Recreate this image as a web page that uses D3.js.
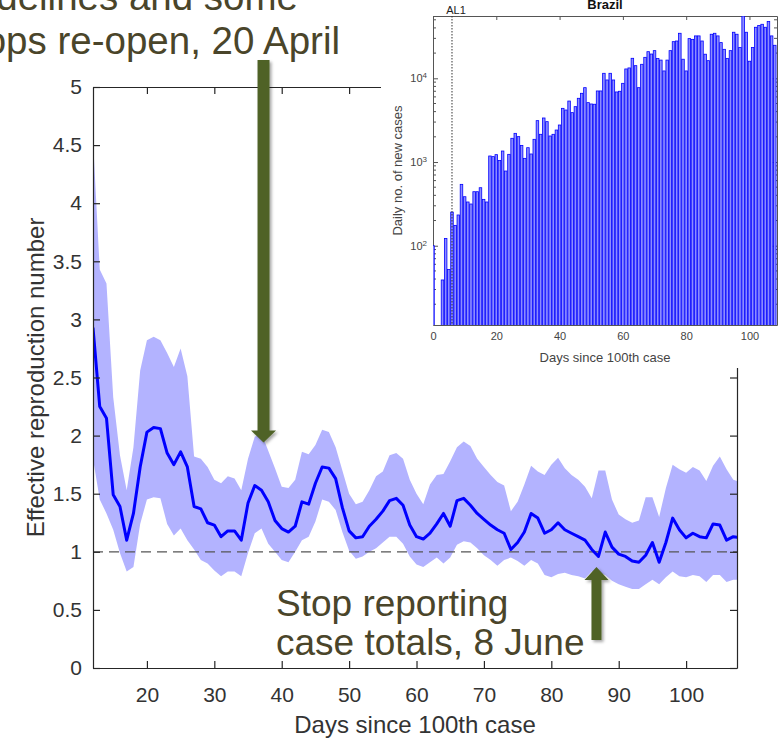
<!DOCTYPE html>
<html>
<head>
<meta charset="utf-8">
<script src="https://cdn.jsdelivr.net/npm/d3@7"></script>
<style>
  body { margin: 0; background: #fff; }
  svg { display: block; font-family: "Liberation Sans", Arial, Helvetica, sans-serif; }
</style>
</head>
<body>
<div id="chart"></div>
<script>
// days since 100th case shown in the main panel
var days = d3.range(12, 109);

// effective reproduction number (mean) and its band
var rtMean = [2.93, 2.25, 2.15, 1.49, 1.39, 1.10, 1.33, 1.73, 2.03, 2.07, 2.06, 1.85, 1.75, 1.86, 1.73, 1.39, 1.37, 1.25, 1.23, 1.13, 1.18, 1.18, 1.10, 1.42, 1.57,
  1.53, 1.43, 1.27, 1.20, 1.17, 1.22, 1.43, 1.41, 1.59, 1.73, 1.72, 1.63, 1.38, 1.18, 1.12, 1.13, 1.22, 1.28, 1.35, 1.44, 1.46, 1.40, 1.23, 1.13, 1.11, 1.16, 1.24, 1.33, 1.22, 1.44, 1.46, 1.40, 1.33, 1.28, 1.23,
  1.19, 1.16, 1.02, 1.08, 1.17, 1.33, 1.29, 1.16, 1.19, 1.25, 1.19, 1.16, 1.13, 1.10, 1.02, 0.96, 1.17, 1.04, 0.98, 0.96, 0.92, 0.91, 0.97, 1.08, 0.91, 1.08, 1.29, 1.19, 1.12, 1.16, 1.13, 1.12, 1.24, 1.23, 1.10, 1.13, 1.12];

var rtUpper = [4.55, 3.43, 3.31, 2.33, 1.83, 1.53, 1.90, 2.56, 2.82, 2.85, 2.82, 2.71, 2.59, 2.75, 2.51, 1.82, 1.80, 1.73, 1.62, 1.59, 1.65, 1.63, 1.53, 1.80, 1.99,
  2.02, 1.87, 1.72, 1.56, 1.55, 1.62, 1.86, 1.84, 1.92, 2.05, 2.03, 1.90, 1.70, 1.50, 1.41, 1.43, 1.53, 1.65, 1.69, 1.83, 1.85, 1.80, 1.62, 1.50, 1.41, 1.58, 1.66, 1.67, 1.78, 1.90, 1.95, 1.91, 1.80, 1.73, 1.66,
  1.60, 1.57, 1.35, 1.43, 1.58, 1.74, 1.69, 1.66, 1.75, 1.81, 1.72, 1.66, 1.62, 1.56, 1.46, 1.70, 1.70, 1.45, 1.32, 1.28, 1.25, 1.27, 1.47, 1.47, 1.30, 1.55, 1.75, 1.71, 1.68, 1.73, 1.70, 1.61, 1.74, 1.82, 1.71, 1.62, 1.60];

var rtLower = [1.80, 1.45, 1.33, 1.19, 0.99, 0.83, 0.87, 1.24, 1.45, 1.47, 1.46, 1.24, 1.14, 1.20, 1.10, 1.02, 0.93, 0.90, 0.84, 0.79, 0.83, 0.83, 0.79, 0.99, 1.16,
  1.20, 1.07, 1.00, 0.93, 0.91, 1.00, 1.10, 1.13, 1.26, 1.45, 1.43, 1.36, 1.17, 1.01, 0.94, 0.96, 1.00, 1.03, 1.08, 1.13, 1.13, 1.07, 0.96, 0.89, 0.87, 0.91, 0.95, 0.90, 0.95, 1.06, 1.09, 1.08, 1.03, 0.97, 0.93,
  0.88, 0.93, 0.95, 0.92, 0.88, 0.93, 0.90, 0.80, 0.78, 0.81, 0.82, 0.80, 0.79, 0.77, 0.83, 0.82, 0.80, 0.75, 0.72, 0.70, 0.68, 0.68, 0.72, 0.76, 0.72, 0.78, 0.83, 0.79, 0.78, 0.80, 0.79, 0.74, 0.80, 0.80, 0.74, 0.76, 0.76];

var xTicks = [20, 30, 40, 50, 60, 70, 80, 90, 100];
var yTicks = [0, 0.5, 1, 1.5, 2, 2.5, 3, 3.5, 4, 4.5, 5];

// inset: daily new cases in Brazil
var caseDays = d3.range(0, 109);
var dailyCases = [100, 0, 0, 39, 122, 52, 252, 175, 233, 541, 385, 333, 315, 442, 442, 493, 358, 333, 1180, 1160,
  1225, 1040, 1353, 780, 1235, 1920, 2200, 2010, 1580, 1106, 1483, 1247, 1867, 3120, 2143, 3357, 3035, 2046, 2143, 2410,
  2767, 4377, 4180, 5350, 3890, 4585, 5770, 6620, 7730, 5120, 4935, 4900, 7060, 7060, 11475, 9550, 11475, 9550, 6870, 7000,
  8710, 12930, 13300, 17340, 14160, 7730, 14700, 17800, 20800, 19500, 21400, 17200, 16500, 12240, 16500, 21400, 27400, 27900, 34500, 16900,
  12240, 29800, 29200, 32100, 32100, 27900, 19400, 16250, 33600, 34500, 32100, 26700, 22200, 17300, 21400, 35500, 33600, 23300, 60000, 35500,
  16000, 23300, 40700, 42700, 44200, 40700, 47600, 32100, 24800];
var insetXTicks = [0, 20, 40, 60, 80, 100];
var insetYTicks = [100, 1000, 10000];
var alertDay = 6;

// annotations
var noteTop = ["guidelines and some", "shops re-open, 20 April"];
var noteBottom = ["Stop reporting", "case totals, 8 June"];
var arrowDays = [37.3, 86.7];

var width = 780;
var height = 740;
var axisColor = "#262626";
var noteColor = "#4a452a";
var arrowColor = "#4f6228";

var svg = d3.select("#chart")
  .append("svg")
  .attr("width", width)
  .attr("height", height);

var defs = svg.append("defs");
defs.append("clipPath").attr("id", "mainClip")
  .append("rect").attr("x", 93).attr("y", 87).attr("width", 644).attr("height", 581);
defs.append("clipPath").attr("id", "insetClip")
  .append("rect").attr("x", 433).attr("y", 16).attr("width", 344).attr("height", 309);
defs.append("filter").attr("id", "shadow")
  .attr("x", "-50%").attr("y", "-10%").attr("width", "200%").attr("height", "120%")
  .append("feDropShadow")
  .attr("dx", 2).attr("dy", 2).attr("stdDeviation", 1.5)
  .attr("flood-color", "#000").attr("flood-opacity", 0.35);

// ---------- main panel ----------
var x = d3.scaleLinear().domain([12, 107.55]).range([93, 737]);
var y = d3.scaleLinear().domain([0, 5]).range([668, 87]);

var rows = days.map(function(d, i) {
  return { day: d, mean: rtMean[i], upper: rtUpper[i], lower: rtLower[i] };
});

var plot = svg.append("g").attr("clip-path", "url(#mainClip)");

plot.append("path")
  .datum(rows)
  .attr("fill", "#b3b3ff")
  .attr("d", d3.area()
    .x(d => x(d.day))
    .y0(d => y(d.lower))
    .y1(d => y(d.upper)));

plot.append("line")
  .attr("x1", x(12)).attr("x2", x(107.55))
  .attr("y1", y(1)).attr("y2", y(1))
  .attr("stroke", "#555")
  .attr("stroke-width", 1.3)
  .attr("stroke-dasharray", "10,6");

plot.append("path")
  .datum(rows)
  .attr("fill", "none")
  .attr("stroke", "#0000ff")
  .attr("stroke-width", 3)
  .attr("stroke-linejoin", "round")
  .attr("d", d3.line().x(d => x(d.day)).y(d => y(d.mean)));

function styleAxis(g) {
  g.select(".domain").attr("stroke", axisColor).attr("stroke-width", 1.2);
  g.selectAll(".tick line").attr("stroke", axisColor).attr("stroke-width", 1.2);
  g.selectAll(".tick text").attr("fill", "#333").attr("font-size", 21);
}

svg.append("g")
  .attr("transform", "translate(0,668)")
  .call(d3.axisBottom(x).tickValues(xTicks).tickSizeInner(-7).tickSizeOuter(0).tickPadding(19))
  .call(styleAxis);

svg.append("g")
  .attr("transform", "translate(0,87)")
  .call(d3.axisTop(x).tickValues(xTicks).tickSizeInner(-7).tickSizeOuter(0).tickFormat(""))
  .call(styleAxis);

svg.append("g")
  .attr("transform", "translate(93,0)")
  .call(d3.axisLeft(y).tickValues(yTicks).tickSizeInner(-7).tickSizeOuter(0).tickPadding(11).tickFormat(d3.format("~g")))
  .call(styleAxis);

svg.append("g")
  .attr("transform", "translate(737,0)")
  .call(d3.axisRight(y).tickValues(yTicks).tickSizeInner(-7).tickSizeOuter(0).tickFormat(""))
  .call(styleAxis);

svg.append("text")
  .attr("x", (93 + 737) / 2)
  .attr("y", 733)
  .attr("text-anchor", "middle")
  .attr("font-size", 24)
  .attr("fill", "#333")
  .text("Days since 100th case");

svg.append("text")
  .attr("transform", "rotate(-90)")
  .attr("x", -(87 + 668) / 2)
  .attr("y", 44)
  .attr("text-anchor", "middle")
  .attr("font-size", 24)
  .attr("fill", "#333")
  .text("Effective reproduction number");

// bottom annotation
var noteB = svg.append("text")
  .attr("x", 276)
  .attr("font-size", 37)
  .attr("fill", noteColor);
noteB.selectAll("tspan")
  .data(noteBottom)
  .enter()
  .append("tspan")
  .attr("x", 276)
  .attr("y", (d, i) => 616 + i * 39)
  .text(d => d);

function arrowPath(cx, tipY, baseY, dir, shaft, head, headLen) {
  // dir = 1 points down, -1 points up
  var hy = tipY - dir * headLen;
  return "M" + (cx - shaft / 2) + "," + baseY +
    "L" + (cx + shaft / 2) + "," + baseY +
    "L" + (cx + shaft / 2) + "," + hy +
    "L" + (cx + head / 2) + "," + hy +
    "L" + cx + "," + tipY +
    "L" + (cx - head / 2) + "," + hy +
    "L" + (cx - shaft / 2) + "," + hy + "Z";
}

svg.append("path")
  .attr("d", arrowPath(x(arrowDays[1]), y(0.87), 640, -1, 10, 24, 13))
  .attr("fill", arrowColor)
  .attr("filter", "url(#shadow)");

// ---------- inset ----------
svg.append("rect")
  .attr("x", 381).attr("y", 0)
  .attr("width", 399).attr("height", 368)
  .attr("fill", "#fff");

var xi = d3.scaleLinear().domain([0, 108.7]).range([433, 777]);
var yi = d3.scaleLog().domain([11.3, 55500]).range([325, 16]);

var minorTicks = [];
[10, 100, 1000, 10000].forEach(function(p) {
  for (var k = 2; k <= 9; k++) {
    var v = k * p;
    if (v > 11.3 && v < 55500) minorTicks.push(v);
  }
});

function styleInset(g) {
  g.select(".domain").attr("stroke", "#555").attr("stroke-width", 1);
  g.selectAll(".tick line").attr("stroke", "#555").attr("stroke-width", 1);
  g.selectAll(".tick text").attr("fill", "#444").attr("font-size", 11);
}

svg.append("g")
  .attr("transform", "translate(0,325)")
  .call(d3.axisBottom(xi).tickValues(insetXTicks).tickSizeInner(-4).tickSizeOuter(0).tickPadding(7))
  .call(styleInset);

svg.append("g")
  .attr("transform", "translate(0,16)")
  .call(d3.axisTop(xi).tickValues(insetXTicks).tickSizeInner(-4).tickSizeOuter(0).tickFormat(""))
  .call(styleInset);

var yiLeft = svg.append("g")
  .attr("transform", "translate(433,0)")
  .call(d3.axisLeft(yi).tickValues(insetYTicks).tickSizeInner(-5).tickSizeOuter(0).tickPadding(6))
  .call(styleInset);

yiLeft.selectAll(".tick text")
  .text(null)
  .each(function(d) {
    var t = d3.select(this);
    t.append("tspan").text("10");
    t.append("tspan")
      .attr("font-size", 8)
      .attr("dy", "-0.5em")
      .text(Math.round(Math.log10(d)));
  });

svg.append("g")
  .attr("transform", "translate(777,0)")
  .call(d3.axisRight(yi).tickValues(insetYTicks).tickSizeInner(-5).tickSizeOuter(0).tickFormat(""))
  .call(styleInset);

[433, 777].forEach(function(px) {
  var dir = px === 433 ? 1 : -1;
  svg.append("g")
    .selectAll("line")
    .data(minorTicks)
    .enter()
    .append("line")
    .attr("x1", px).attr("x2", px + dir * 3)
    .attr("y1", d => yi(d)).attr("y2", d => yi(d))
    .attr("stroke", "#555")
    .attr("stroke-width", 1);
});

// bars on top of the inset axes, as in the source figure
var bars = caseDays.map(function(d, i) { return { day: d, value: dailyCases[i] }; })
  .filter(d => d.value > 0);

svg.append("g")
  .attr("clip-path", "url(#insetClip)")
  .selectAll("rect")
  .data(bars)
  .enter()
  .append("rect")
  .attr("x", d => xi(d.day - 0.4))
  .attr("width", xi(0.8) - xi(0))
  .attr("y", d => yi(Math.min(d.value, 55500)))
  .attr("height", d => 325 - yi(Math.min(d.value, 55500)) + 2)
  .attr("fill", "#8c8cff")
  .attr("stroke", "#0000ff")
  .attr("stroke-width", 0.8);

svg.append("line")
  .attr("x1", xi(alertDay)).attr("x2", xi(alertDay))
  .attr("y1", 16).attr("y2", 325)
  .attr("stroke", "#333")
  .attr("stroke-width", 1)
  .attr("stroke-dasharray", "1.5,1.5");

svg.append("text")
  .attr("x", xi(alertDay) + 4)
  .attr("y", 14)
  .attr("text-anchor", "middle")
  .attr("font-size", 11)
  .attr("fill", "#222")
  .text("AL1");

svg.append("text")
  .attr("x", (433 + 777) / 2)
  .attr("y", 8.5)
  .attr("text-anchor", "middle")
  .attr("font-size", 13)
  .attr("font-weight", "bold")
  .attr("fill", "#111")
  .text("Brazil");

svg.append("text")
  .attr("x", (433 + 777) / 2)
  .attr("y", 362)
  .attr("text-anchor", "middle")
  .attr("font-size", 13)
  .attr("fill", "#444")
  .text("Days since 100th case");

svg.append("text")
  .attr("transform", "rotate(-90)")
  .attr("x", -(16 + 325) / 2)
  .attr("y", 402)
  .attr("text-anchor", "middle")
  .attr("font-size", 13)
  .attr("fill", "#444")
  .text("Daily no. of new cases");

// ---------- top annotation ----------
var noteT = svg.append("text")
  .attr("text-anchor", "end")
  .attr("font-size", 38.5)
  .attr("fill", noteColor);
noteT.append("tspan").attr("x", 298).attr("y", 10).text(noteTop[0]);
noteT.append("tspan").attr("x", 340).attr("y", 54).text(noteTop[1]);

svg.append("path")
  .attr("d", arrowPath(x(arrowDays[0]), y(1.94), 60, 1, 12, 25, 12))
  .attr("fill", arrowColor)
  .attr("filter", "url(#shadow)");
</script>
</body>
</html>
